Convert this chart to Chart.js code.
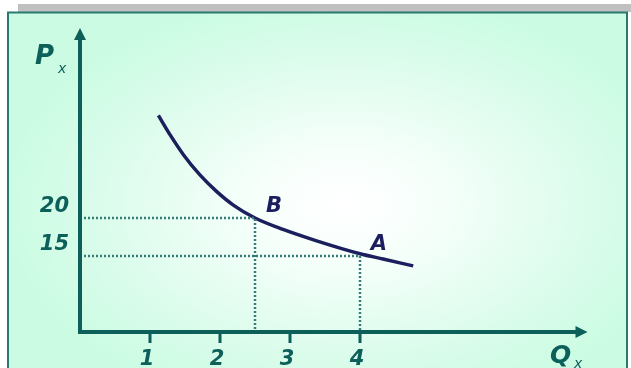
<!DOCTYPE html>
<html><head><meta charset="utf-8">
<script src="https://cdn.jsdelivr.net/npm/chart.js@4"></script>
<style>html,body{margin:0;padding:0;background:#fff;}canvas{display:block;}</style>
</head><body>
<div style="width:631px;height:368px;position:relative"><canvas id="c" width="631" height="368"></canvas></div>
<script>
// Demand curve points (Qx, Px)
const curveQ = [1.12, 1.29, 1.48, 1.71, 1.95, 2.19, 2.5, 2.9, 3.38, 4.0, 4.33, 4.76];
const curveP = [33.5, 30.9, 28.3, 25.7, 23.5, 21.7, 20.0, 18.5, 17.0, 15.3, 14.6, 13.7];
// Marked points
const pointNames = ['B', 'A'];
const pointQ = [2.5, 4];
const pointP = [20, 15];
// Axis ticks
const xTicks = [1, 2, 3, 4];
const xTickLabels = ['1', '2', '3', '4'];
const yTickLabels = ['20', '15'];
const xAxisTitle = ['Q', 'x'];
const yAxisTitle = ['P', 'x'];
const xMin = 0, xMax = 7.25, yMin = 5, yMax = 45;

const AXIS = '#0d5f59';
const DOT = '#357d77';
const CURVE = '#1b1f5e';
const FONT = '"DejaVu Sans", Verdana, sans-serif';

const curveData = curveQ.map((q, i) => ({x: q, y: curveP[i]}));
const guideSets = pointQ.map((q, i) => ({
  data: [{x: xMin, y: pointP[i]}, {x: q, y: pointP[i]}, {x: q, y: yMin}],
  borderColor: DOT, borderWidth: 2.5, borderDash: [2, 2], pointRadius: 0, tension: 0, showLine: true
}));

const bgPlugin = {
  id: 'bg',
  beforeDraw(chart) {
    const ctx = chart.ctx;
    ctx.save();
    ctx.fillStyle = '#ffffff';
    ctx.fillRect(0, 0, 631, 368);
    ctx.fillStyle = '#c0c0c0';
    ctx.fillRect(18, 4, 613, 8);
    ctx.save();
    ctx.beginPath();
    ctx.rect(7, 12, 621, 360);
    ctx.clip();
    ctx.translate(345, 205);
    ctx.scale(1, 0.62);
    const g = ctx.createRadialGradient(0, 0, 0, 0, 0, 340);
    g.addColorStop(0, '#ffffff');
    g.addColorStop(0.25, '#f7fffb');
    g.addColorStop(0.7, '#dcfcec');
    g.addColorStop(1, '#cbfce3');
    ctx.fillStyle = g;
    ctx.fillRect(-400, -400, 800, 800);
    ctx.restore();
    ctx.strokeStyle = '#2a7870';
    ctx.lineWidth = 2;
    ctx.strokeRect(8, 12.5, 619, 370);
    ctx.restore();
  },
  afterDatasetsDraw(chart) {
    const ctx = chart.ctx;
    const xs = chart.scales.x, ys = chart.scales.y;
    const x0 = xs.getPixelForValue(xMin), y0 = ys.getPixelForValue(yMin);
    const xEnd = xs.getPixelForValue(xMax), yTop = ys.getPixelForValue(yMax);
    ctx.save();
    ctx.strokeStyle = AXIS; ctx.fillStyle = AXIS;
    ctx.lineWidth = 4; ctx.lineCap = 'butt';
    ctx.beginPath();
    ctx.moveTo(x0, yTop + 10); ctx.lineTo(x0, y0); ctx.lineTo(xEnd - 10, y0);
    ctx.stroke();
    ctx.beginPath();
    ctx.moveTo(x0, yTop); ctx.lineTo(x0 - 6, yTop + 12); ctx.lineTo(x0 + 6, yTop + 12); ctx.closePath(); ctx.fill();
    ctx.beginPath();
    ctx.moveTo(xEnd, y0); ctx.lineTo(xEnd - 12, y0 - 6); ctx.lineTo(xEnd - 12, y0 + 6); ctx.closePath(); ctx.fill();
    ctx.lineWidth = 3;
    ctx.font = 'bold oblique 21px ' + FONT;
    ctx.textAlign = 'center'; ctx.textBaseline = 'middle';
    xTicks.forEach((t, i) => {
      const px = xs.getPixelForValue(t);
      ctx.beginPath(); ctx.moveTo(px, y0); ctx.lineTo(px, y0 + 11); ctx.stroke();
      ctx.fillText(xTickLabels[i], px - 3, y0 + 28);
    });
    ctx.textAlign = 'right';
    pointP.forEach((p, i) => {
      ctx.fillText(yTickLabels[i], x0 - 11, ys.getPixelForValue(p) - 11);
    });
    ctx.textAlign = 'left'; ctx.textBaseline = 'alphabetic';
    ctx.font = 'bold oblique 26px ' + FONT;
    ctx.fillText(yAxisTitle[0], 35, 64);
    ctx.font = 'bold oblique 25px ' + FONT;
    ctx.fillText(xAxisTitle[0], 550, 363);
    ctx.font = 'oblique 14px ' + FONT;
    ctx.fillText(yAxisTitle[1], 58, 73);
    ctx.fillText(xAxisTitle[1], 574, 368);
    ctx.fillStyle = CURVE;
    ctx.font = 'bold oblique 21px ' + FONT;
    ctx.textAlign = 'center'; ctx.textBaseline = 'middle';
    pointNames.forEach((n, i) => {
      ctx.fillText(n, xs.getPixelForValue(pointQ[i]) + 19, ys.getPixelForValue(pointP[i]) - 11);
    });
    ctx.restore();
  }
};

new Chart(document.getElementById('c'), {
  type: 'scatter',
  data: {
    datasets: [
      ...guideSets,
      {data: curveData, borderColor: CURVE, borderWidth: 3.5, pointRadius: 0, showLine: true, cubicInterpolationMode: 'monotone'}
    ]
  },
  options: {
    responsive: false, animation: false, devicePixelRatio: 1,
    layout: {padding: {left: 80, right: 631 - 587.5, top: 28, bottom: 36}},
    plugins: {legend: {display: false}, tooltip: {enabled: false}},
    scales: {
      x: {type: 'linear', min: xMin, max: xMax, display: false},
      y: {type: 'linear', min: yMin, max: yMax, display: false}
    }
  },
  plugins: [bgPlugin]
});
</script>
</body></html>
